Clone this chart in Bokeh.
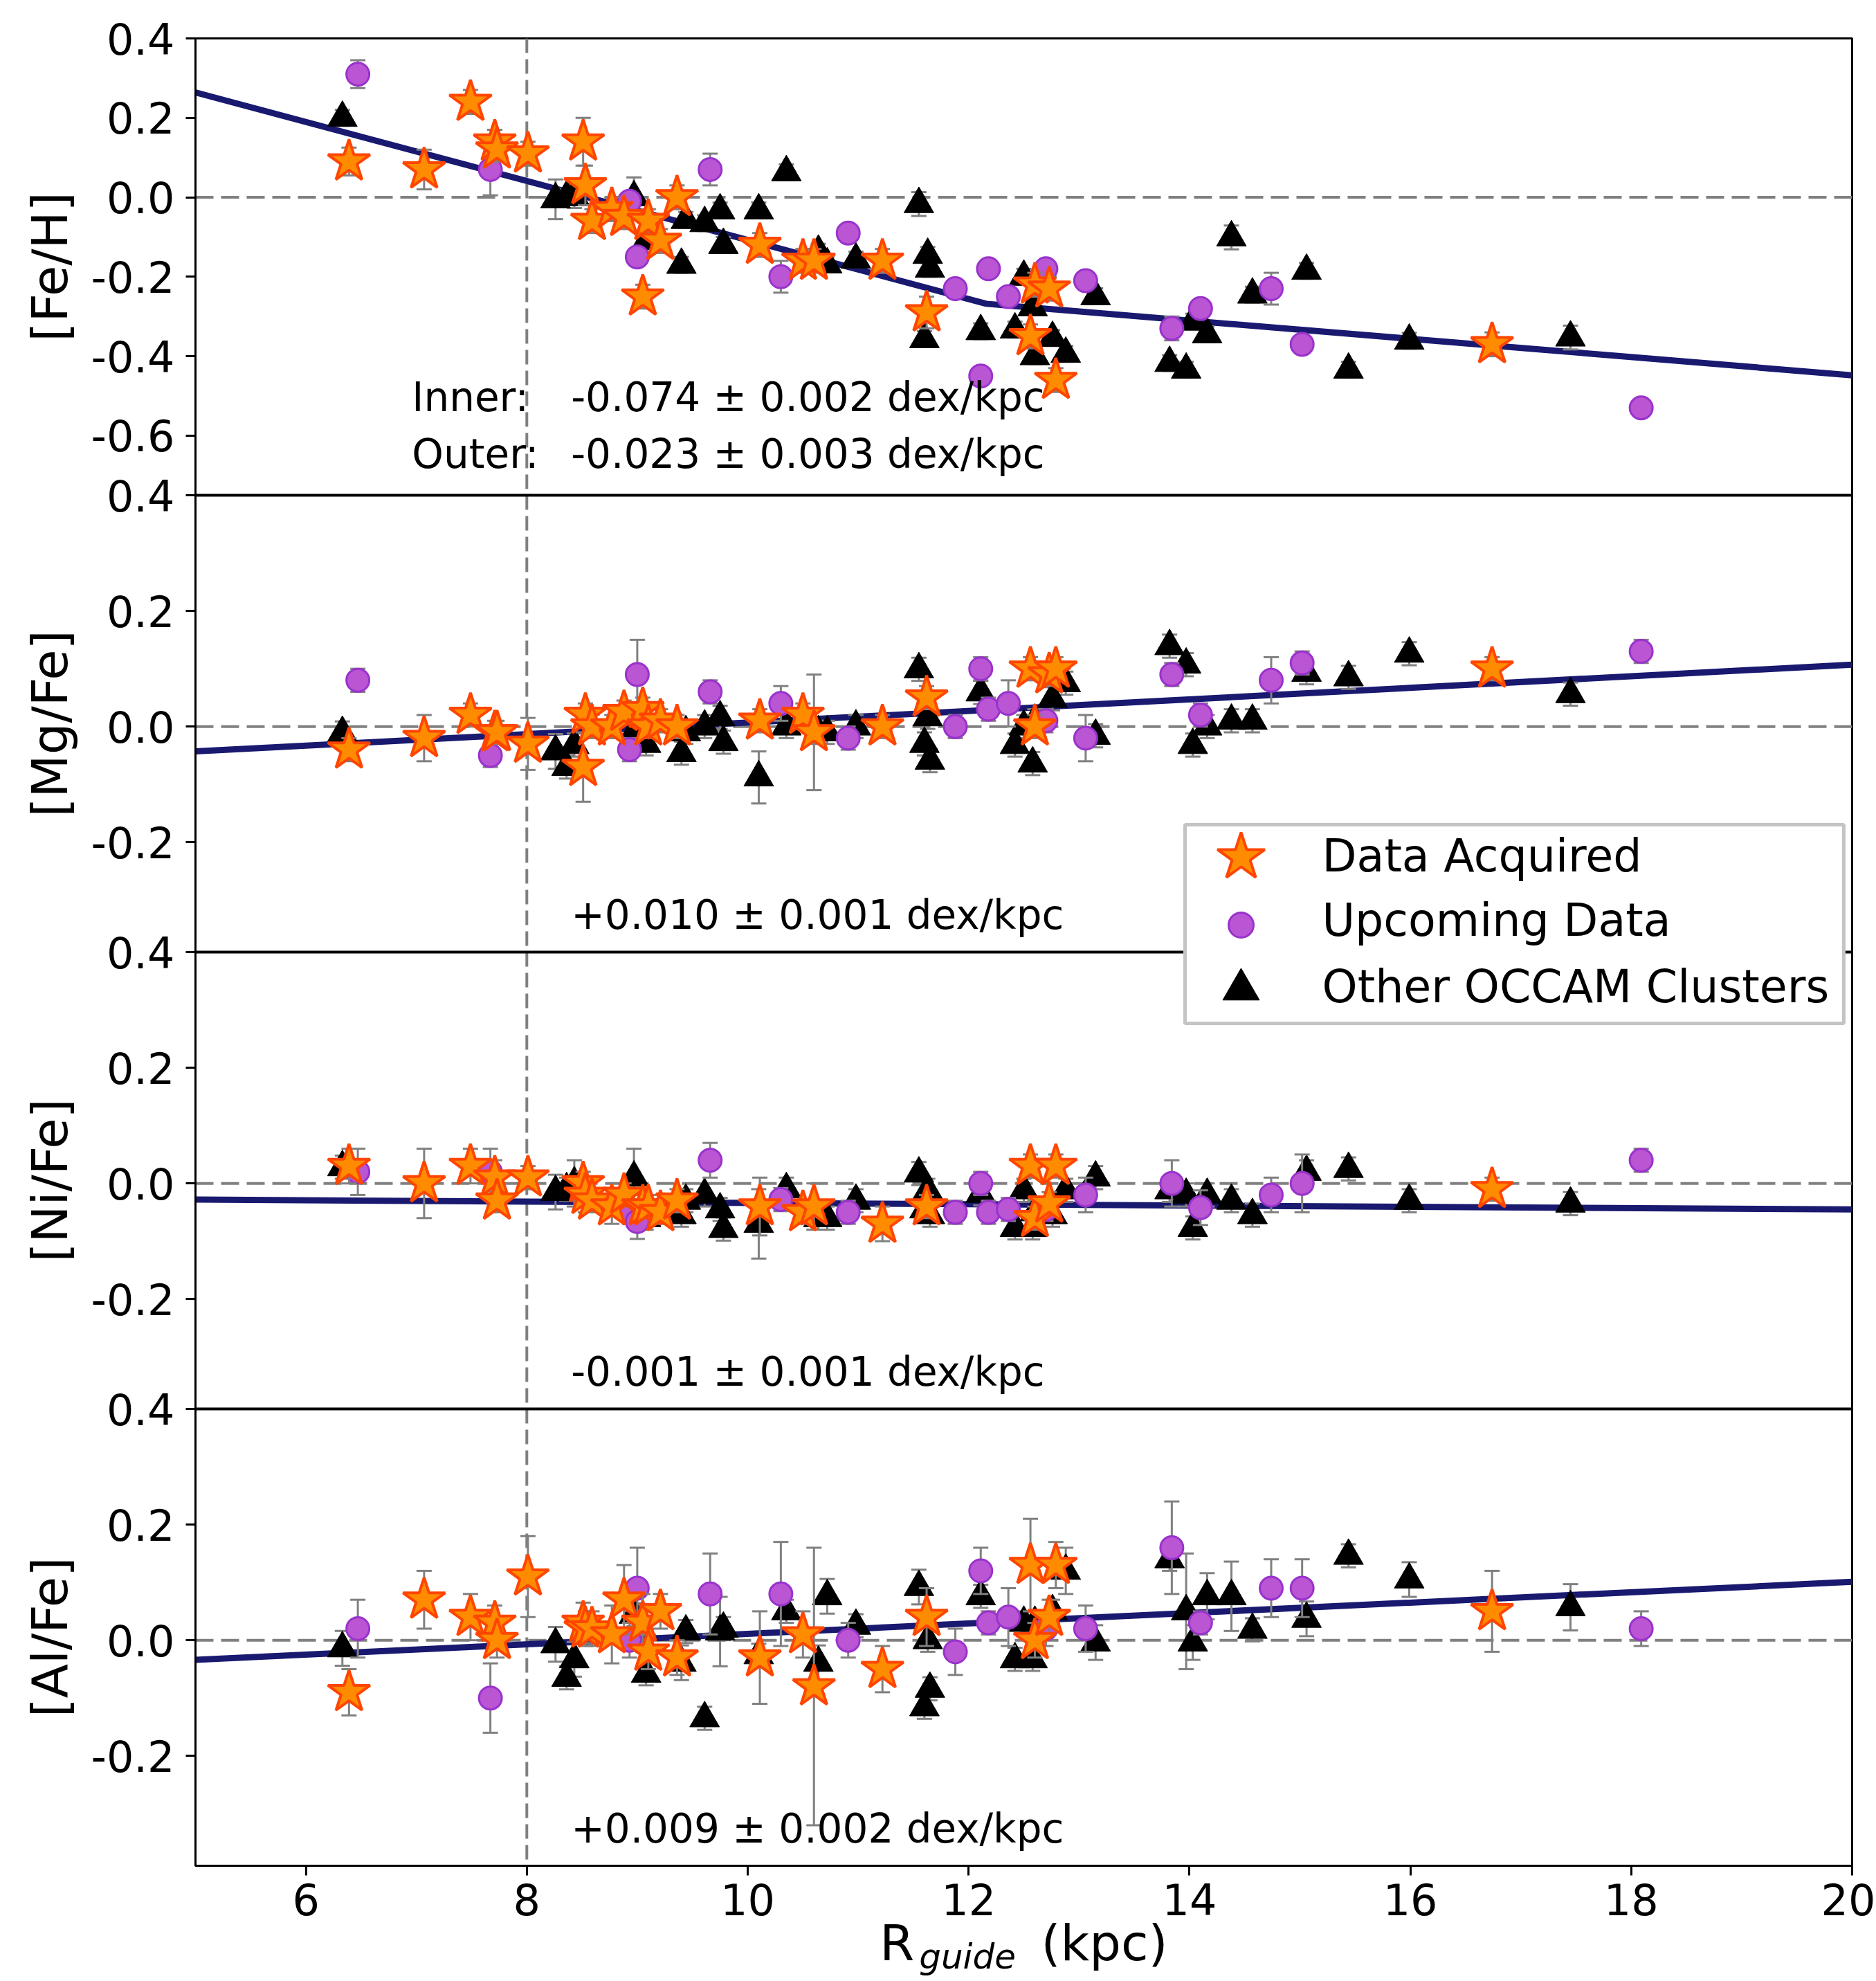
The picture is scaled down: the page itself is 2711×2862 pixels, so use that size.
from bokeh.plotting import figure
from bokeh.models import (Range1d, FixedTicker, Span, Label, BoxAnnotation, ColumnDataSource,
                          LinearAxis)
from bokeh.core.properties import value
from bokeh.embed import file_html
from bokeh.resources import INLINE

FONT = "DejaVu Sans"

# ---------------- data ----------------
x_ticks = [6, 8, 10, 12, 14, 16, 18, 20]
panel_labels = ["[Fe/H]", "[Mg/Fe]", "[Ni/Fe]", "[Al/Fe]"]
panel_ylims = [(-0.75, 0.4), (-0.39, 0.4), (-0.39, 0.4), (-0.39, 0.4)]
panel_yticks = [[-0.6, -0.4, -0.2, 0.0, 0.2, 0.4],
                [-0.2, 0.0, 0.2, 0.4],
                [-0.2, 0.0, 0.2, 0.4],
                [-0.2, 0.0, 0.2, 0.4]]
solar_radius = 8.0
x_label_main = "R" + "\u00a0" * 8 + "(kpc)"
x_label_sub = "guide"

# fitted gradients
fit_x = [[5.0, 12.16, 20.0], [5.0, 20.0], [5.0, 20.0], [5.0, 20.0]]
fit_y = [[0.264, -0.268, -0.448], [-0.043, 0.107], [-0.028, -0.045], [-0.034, 0.101]]
inner_text = "-0.074 \u00b1 0.002 dex/kpc"
outer_text = "-0.023 \u00b1 0.003 dex/kpc"
gradient_texts = [None, "+0.010 \u00b1 0.001 dex/kpc", "-0.001 \u00b1 0.001 dex/kpc",
                  "+0.009 \u00b1 0.002 dex/kpc"]

# Data Acquired (stars)
acq_x = [6.39, 7.07, 7.49, 7.71, 7.73, 8.01, 8.51, 8.53, 8.59, 8.77, 8.88, 9.05, 9.10,
         9.21, 9.36, 10.11, 10.50, 10.60, 11.22, 11.62, 12.56, 12.60, 12.73, 12.79, 16.74]
acq_fe = [0.09, 0.07, 0.24, 0.14, 0.12, 0.11, 0.14, 0.03, -0.06, -0.03, -0.05, -0.25, -0.06,
          -0.11, 0.0, -0.12, -0.16, -0.16, -0.16, -0.29, -0.35, -0.22, -0.23, -0.46, -0.37]
acq_fe_err = [0.035, 0.05, 0.03, 0.03, 0.03, 0.03, 0.06, 0.05, 0.03, 0.03, 0.03, 0.03, 0.03,
              0.03, 0.03, 0.03, 0.03, 0.03, 0.03, 0.04, 0.03, 0.03, 0.03, 0.03, 0.03]
acq_mg = [-0.04, -0.02, 0.02, -0.01, -0.01, -0.03, -0.07, 0.02, 0.0, 0.0, 0.025, 0.03, 0.0,
          0.01, 0.0, 0.01, 0.02, -0.01, 0.0, 0.05, 0.10, 0.0, 0.09, 0.10, 0.10]
acq_mg_err = [0.02, 0.04, 0.02, 0.02, 0.02, 0.045, 0.06, 0.02, 0.02, 0.02, 0.02, 0.02, 0.02,
              0.02, 0.02, 0.02, 0.02, 0.10, 0.02, 0.02, 0.02, 0.02, 0.02, 0.02, 0.02]
acq_ni = [0.03, 0.0, 0.03, 0.01, -0.03, 0.01, 0.0, -0.02, -0.03, -0.04, -0.02, -0.04, -0.04,
          -0.05, -0.03, -0.04, -0.05, -0.04, -0.07, -0.04, 0.03, -0.06, -0.035, 0.03, -0.01]
acq_ni_err = [0.03, 0.06, 0.03, 0.03, 0.02, 0.02, 0.02, 0.03, 0.02, 0.03, 0.02, 0.02, 0.02,
              0.02, 0.02, 0.05, 0.02, 0.04, 0.03, 0.02, 0.02, 0.02, 0.02, 0.02, 0.02]
acq_al = [-0.09, 0.07, 0.04, 0.03, 0.0, 0.11, 0.03, 0.02, 0.02, 0.01, 0.07, 0.03, -0.02,
          0.05, -0.03, -0.03, 0.01, -0.08, -0.05, 0.04, 0.13, 0.0, 0.04, 0.13, 0.05]
acq_al_err = [0.04, 0.05, 0.04, 0.03, 0.03, 0.07, 0.035, 0.03, 0.03, 0.05, 0.06, 0.05, 0.03,
              0.03, 0.03, 0.08, 0.04, 0.24, 0.04, 0.05, 0.08, 0.03, 0.03, 0.04, 0.07]

# Upcoming Data (circles)
up_x = [6.47, 7.67, 8.93, 9.00, 9.66, 10.30, 10.91, 11.88, 12.11, 12.18, 12.36, 12.70,
        13.06, 13.84, 14.10, 14.74, 15.02, 18.09]
up_fe = [0.31, 0.07, -0.01, -0.15, 0.07, -0.20, -0.09, -0.23, -0.45, -0.18, -0.25, -0.18,
         -0.21, -0.33, -0.28, -0.23, -0.37, -0.53]
up_fe_err = [0.035, 0.065, 0.02, 0.02, 0.04, 0.04, 0.02, 0.02, 0.02, 0.02, 0.02, 0.02,
             0.02, 0.03, 0.02, 0.04, 0.02, 0.02]
up_mg = [0.08, -0.05, -0.04, 0.09, 0.06, 0.04, -0.02, 0.0, 0.10, 0.03, 0.04, 0.01,
         -0.02, 0.09, 0.02, 0.08, 0.11, 0.13]
up_mg_err = [0.02, 0.02, 0.02, 0.06, 0.02, 0.03, 0.02, 0.02, 0.02, 0.02, 0.04, 0.02,
             0.04, 0.02, 0.02, 0.04, 0.02, 0.02]
up_ni = [0.02, 0.02, -0.05, -0.066, 0.04, -0.028, -0.05, -0.05, 0.0, -0.05, -0.045, -0.045,
         -0.02, 0.0, -0.042, -0.02, 0.0, 0.04]
up_ni_err = [0.04, 0.04, 0.02, 0.03, 0.03, 0.02, 0.02, 0.02, 0.02, 0.02, 0.02, 0.02,
             0.03, 0.04, 0.03, 0.03, 0.05, 0.02]
up_al = [0.02, -0.10, 0.0, 0.09, 0.08, 0.08, 0.0, -0.02, 0.12, 0.03, 0.04, 0.02,
         0.02, 0.16, 0.03, 0.09, 0.09, 0.02]
up_al_err = [0.05, 0.06, 0.03, 0.07, 0.07, 0.09, 0.03, 0.04, 0.04, 0.02, 0.05, 0.03,
             0.04, 0.08, 0.02, 0.05, 0.05, 0.03]

# Other OCCAM Clusters (triangles)
tri_x = [6.33, 8.26, 8.36, 8.43, 8.97, 9.08, 9.40, 9.44, 9.61, 9.75, 9.78, 10.10, 10.35,
         10.64, 10.72, 10.98, 11.55, 11.60, 11.63, 11.65, 12.11, 12.42, 12.50, 12.58, 12.60,
         12.76, 12.88, 13.15, 13.82, 13.97, 14.03, 14.16, 14.38, 14.57, 15.06, 15.44, 15.99,
         17.45]
tri_fe = [0.20, -0.005, 0.0, 0.003, 0.0, -0.11, -0.17, -0.057, -0.065, -0.033, -0.12, -0.033,
          0.063, -0.137, -0.169, -0.157, -0.017, -0.357, -0.145, -0.18, -0.337, -0.333, -0.20,
          -0.277, -0.40, -0.354, -0.394, -0.249, -0.417, -0.434, -0.313, -0.345, -0.101,
          -0.245, -0.185, -0.434, -0.361, -0.353]
tri_fe_err = [0.02, 0.05, 0.02, 0.03, 0.05, 0.02, 0.02, 0.02, 0.02, 0.02, 0.02, 0.02,
              0.02, 0.02, 0.02, 0.02, 0.03, 0.02, 0.02, 0.02, 0.02, 0.02, 0.02,
              0.02, 0.02, 0.02, 0.02, 0.02, 0.02, 0.02, 0.02, 0.02, 0.03,
              0.02, 0.02, 0.02, 0.02, 0.03]
tri_mg = [-0.011, -0.043, -0.07, -0.032, -0.01, -0.03, -0.046, -0.01, 0.0, 0.016, -0.027,
          -0.088, 0.0, -0.01, -0.01, 0.0, 0.099, -0.03, 0.016, -0.059, 0.059, -0.032, 0.0,
          -0.064, 0.01, 0.048, 0.075, -0.016, 0.139, 0.107, -0.032, 0.0, 0.01, 0.01, 0.093,
          0.085, 0.126, 0.056]
tri_mg_err = [0.02, 0.03, 0.02, 0.02, 0.02, 0.02, 0.02, 0.02, 0.02, 0.02, 0.02,
              0.045, 0.02, 0.02, 0.02, 0.02, 0.02, 0.02, 0.02, 0.02, 0.02, 0.02, 0.02,
              0.02, 0.02, 0.02, 0.02, 0.02, 0.02, 0.02, 0.02, 0.02, 0.02, 0.02, 0.02,
              0.02, 0.02, 0.02]
tri_ni = [0.028, -0.015, -0.01, 0.0, 0.01, -0.06, -0.055, -0.03, -0.02, -0.045, -0.079,
          -0.07, -0.01, -0.06, -0.06, -0.03, 0.017, -0.045, -0.012, -0.055, -0.018, -0.077,
          -0.012, -0.077, -0.05, -0.055, -0.012, 0.01, -0.012, -0.02, -0.077, -0.02, -0.03,
          -0.055, 0.02, 0.025, -0.03, -0.035]
tri_ni_err = [0.02, 0.03, 0.02, 0.04, 0.05, 0.02, 0.02, 0.02, 0.02, 0.02, 0.02,
              0.06, 0.02, 0.02, 0.02, 0.02, 0.02, 0.02, 0.02, 0.02, 0.02, 0.02,
              0.02, 0.02, 0.02, 0.02, 0.02, 0.02, 0.02, 0.02, 0.02, 0.02, 0.02,
              0.02, 0.02, 0.02, 0.02, 0.02]
tri_al = [-0.014, -0.007, -0.065, -0.033, 0.044, -0.058, -0.039, 0.015, -0.135, 0.015, 0.02,
          -0.026, 0.05, -0.039, 0.076, 0.025, 0.092, -0.116, 0.0, -0.084, 0.076, -0.033, 0.03,
          -0.033, 0.03, 0.05, 0.12, -0.004, 0.14, 0.05, -0.004, 0.076, 0.076, 0.018, 0.037,
          0.146, 0.105, 0.057]
tri_al_err = [0.03, 0.03, 0.02, 0.03, 0.02, 0.02, 0.03, 0.02, 0.02, 0.06, 0.02,
              0.02, 0.02, 0.03, 0.03, 0.02, 0.03, 0.02, 0.02, 0.02, 0.02, 0.02, 0.02,
              0.02, 0.02, 0.02, 0.04, 0.03, 0.02, 0.10, 0.03, 0.04, 0.06, 0.02, 0.03,
              0.02, 0.03, 0.04]

groups = [
    dict(name="Other OCCAM Clusters", x=tri_x,
         ys=[tri_fe, tri_mg, tri_ni, tri_al], errs=[tri_fe_err, tri_mg_err, tri_ni_err, tri_al_err],
         marker="triangle", size=43, fill="black", line="black", lw=1),
    dict(name="Upcoming Data", x=up_x,
         ys=[up_fe, up_mg, up_ni, up_al], errs=[up_fe_err, up_mg_err, up_ni_err, up_al_err],
         marker="circle", size=33, fill="#BA55D3", line="#9932CC", lw=3),
    dict(name="Data Acquired", x=acq_x,
         ys=[acq_fe, acq_mg, acq_ni, acq_al], errs=[acq_fe_err, acq_mg_err, acq_ni_err, acq_al_err],
         marker="star", size=64, fill="#FF8C00", line="#FF4500", lw=4),
]

# ---------------- figure ----------------
FW, FH = 2394, 2640
NP = len(panel_ylims)
p = figure(frame_width=FW, frame_height=FH, x_range=Range1d(5, 20), y_range=Range1d(0, NP),
           output_backend="svg", toolbar_location=None,
           min_border_left=282, min_border_right=34, min_border_top=55, min_border_bottom=166)
p.background_fill_color = "white"
p.border_fill_color = "white"
p.outline_line_color = "black"
p.outline_line_width = 3
p.grid.visible = False

# one y-range per stacked panel
yr = {}
for k, (lo, hi) in enumerate(panel_ylims):
    b = NP - 1 - k
    h = hi - lo
    yr[f"p{k}"] = Range1d(lo - b * h, lo - b * h + NP * h)
yr["ly"] = Range1d(0, FH)
p.extra_y_ranges = yr
p.extra_x_ranges = {"lx": Range1d(0, FW)}

# y axis ticks (panel values mapped to the stacked axis)
ytick_pos, ytick_lab = [], {}
for k, (lo, hi) in enumerate(panel_ylims):
    b = NP - 1 - k
    for t in panel_yticks[k]:
        pos = b + (t - lo) / (hi - lo)
        ytick_pos.append(pos)
        ytick_lab[pos] = f"{t:.1f}"

for ax in (p.xaxis[0], p.yaxis[0]):
    ax.axis_line_width = 3
    ax.major_tick_line_width = 3
    ax.major_tick_out = 14
    ax.major_tick_in = 0
    ax.minor_tick_line_color = None
    ax.major_label_text_font = FONT
    ax.major_label_text_font_size = "62px"
    ax.major_label_text_color = "black"

p.xaxis.ticker = FixedTicker(ticks=x_ticks)
p.xaxis.major_label_standoff = 11
p.yaxis.ticker = FixedTicker(ticks=ytick_pos)
p.yaxis.major_label_overrides = ytick_lab
p.yaxis.major_label_standoff = 16

# x label "R_guide (kpc)": a label-only bottom axis carrying the subscript as its
# tick label and the main text as its axis label
sub_x = 11.99
sub_axis = LinearAxis(ticker=FixedTicker(ticks=[sub_x]), major_label_overrides={sub_x: x_label_sub},
                      axis_line_color=None, major_tick_line_color=None,
                      minor_tick_line_color=None, major_tick_out=0, major_tick_in=0,
                      major_label_standoff=28,
                      major_label_text_font=FONT, major_label_text_font_size="50px",
                      major_label_text_font_style="italic", major_label_text_color="black",
                      axis_label=x_label_main, axis_label_standoff=-94,
                      axis_label_text_font=FONT, axis_label_text_font_size="72px",
                      axis_label_text_font_style="normal", axis_label_text_color="black")
p.add_layout(sub_axis, "below")

# panel names, as a second (label-only) left axis
lab_pos = [NP - 1 - k + 0.5 for k in range(NP)]
lab_axis = LinearAxis(ticker=FixedTicker(ticks=lab_pos),
                      major_label_overrides={pos: lab for pos, lab in zip(lab_pos, panel_labels)},
                      major_label_orientation="vertical",
                      axis_line_color=None, major_tick_line_color=None,
                      minor_tick_line_color=None, major_tick_out=0, major_tick_in=0,
                      major_label_standoff=15,
                      major_label_text_font=FONT, major_label_text_font_size="72px",
                      major_label_text_color="black")
p.add_layout(lab_axis, "left")

ERR_C = "#808080"

# reference lines
p.add_layout(Span(location=solar_radius, dimension="height", line_color=ERR_C,
                  line_width=4, line_dash="21 9", level="underlay"))
for k in range(NP):
    p.add_layout(Span(location=0, dimension="width", y_range_name=f"p{k}", line_color=ERR_C,
                      line_width=4, line_dash="26 11", level="underlay"))
# panel dividers
for b in range(1, NP):
    p.add_layout(Span(location=b, dimension="width", line_color="black", line_width=4))

# fits
for k in range(NP):
    p.line(fit_x[k], fit_y[k], y_range_name=f"p{k}", line_color="#191970", line_width=9)

# data groups
for g in groups:
    for k in range(NP):
        ys, es = g["ys"][k], g["errs"][k]
        src = ColumnDataSource(dict(x=g["x"], y=ys,
                                    lo=[y - e for y, e in zip(ys, es)],
                                    hi=[y + e for y, e in zip(ys, es)]))
        rn = f"p{k}"
        p.segment(x0="x", y0="lo", x1="x", y1="hi", source=src, y_range_name=rn,
                  line_color=ERR_C, line_width=3)
        p.scatter("x", "lo", source=src, marker="dash", size=22, line_color=ERR_C,
                  line_width=3, y_range_name=rn)
        p.scatter("x", "hi", source=src, marker="dash", size=22, line_color=ERR_C,
                  line_width=3, y_range_name=rn)
        p.scatter("x", "y", source=src, marker=g["marker"], size=g["size"],
                  fill_color=g["fill"], line_color=g["line"], line_width=g["lw"],
                  y_range_name=rn)

# gradient annotations
TXT = dict(text_font=value(FONT), text_font_size="58px", text_color="black",
           text_align="left", text_baseline="alphabetic")
p.text(x=[6.96, 6.96], y=[-0.504, -0.647], text=["Inner:", "Outer:"], y_range_name="p0", **TXT)
p.text(x=[8.40, 8.40], y=[-0.504, -0.647], text=[inner_text, outer_text], y_range_name="p0", **TXT)
for k in range(1, NP):
    p.text(x=[8.40], y=[-0.326], text=[gradient_texts[k]], y_range_name=f"p{k}", **TXT)

# legend (manual so that it can straddle two panels)
p.add_layout(BoxAnnotation(left=1430, right=2382, top=1504, bottom=1217,
                           left_units="screen", right_units="screen",
                           top_units="screen", bottom_units="screen",
                           fill_color="white", fill_alpha=1.0,
                           line_color="#c4c4c4", line_width=5, line_alpha=1.0))
leg_keys = [("Data Acquired", 1457, 1459, 72), ("Upcoming Data", 1359, 1366, 36),
            ("Other OCCAM Clusters", 1266, 1270, 53)]
gmap = {g["name"]: g for g in groups}
for name, ky, ty, sz in leg_keys:
    g = gmap[name]
    p.scatter([1511], [ky], x_range_name="lx", y_range_name="ly", marker=g["marker"], size=sz,
              fill_color=g["fill"], line_color=g["line"], line_width=g["lw"], level="overlay")
    p.add_layout(Label(x=1628, y=ty, x_units="screen", y_units="screen", text=name,
                       text_font=FONT, text_font_size="65px", text_baseline="alphabetic",
                       text_color="black"))

open("out.html", "w").write(file_html(p, INLINE))
